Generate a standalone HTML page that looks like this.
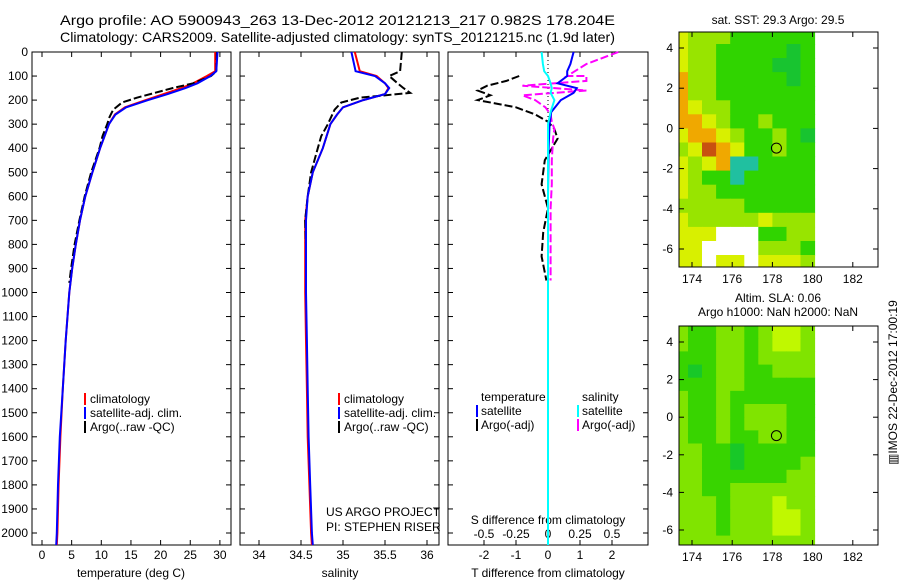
<!DOCTYPE html>
<html><head><meta charset="utf-8"><style>
body{margin:0;background:#fff;width:900px;height:580px;overflow:hidden;font-family:"Liberation Sans",sans-serif}
svg text{font-family:"Liberation Sans",sans-serif;font-size:12px;fill:#000}
</style></head><body>
<svg id="s" width="900" height="580" xmlns="http://www.w3.org/2000/svg">
<text x="60" y="25" style="font-size:14px" textLength="555" lengthAdjust="spacingAndGlyphs">Argo profile: AO 5900943_263 13-Dec-2012 20121213_217 0.982S 178.204E</text>
<text x="60" y="42" style="font-size:14px" textLength="555" lengthAdjust="spacingAndGlyphs">Climatology: CARS2009. Satellite-adjusted climatology: synTS_20121215.nc (1.9d later)</text>
<text x="778" y="24" text-anchor="middle">sat. SST: 29.3 Argo: 29.5</text>
<text x="778" y="302" text-anchor="middle">Altim. SLA: 0.06</text>
<text x="778" y="316" text-anchor="middle">Argo h1000: NaN h2000: NaN</text>
<text transform="translate(897,465) rotate(-90)" x="0" y="0">▥IMOS 22-Dec-2012 17:00:19</text>
</svg>
<script>
// ---- data ----
const depthClim=[0,80,100,130,150,175,200,230,260,300,400,500,600,700,800,900,1000,1200,1400,1600,1800,2000,2050];
const tempClim=[29.2,29.2,27.8,25.5,23.5,20.5,17.5,14,12.3,11.3,9.8,8.5,7.3,6.4,5.7,5.1,4.6,4.0,3.5,3.1,2.8,2.6,2.5];
const tempSat=[29.6,29.4,28.4,26.2,24.2,21.2,17.9,14.2,12.4,11.3,9.8,8.5,7.3,6.4,5.7,5.1,4.6,4.0,3.5,3.0,2.7,2.5,2.4];
const depthArgo=[0,80,100,130,150,170,190,210,240,270,300,350,400,500,600,700,800,900,960];
const tempArgo=[29.5,29.4,28.5,25.5,22,19,16,13.5,12,11.4,11,10.2,9.7,8.3,7.2,6.3,5.5,4.9,4.6];
const salClim=[35.14,35.2,35.4,35.5,35.54,35.5,35.24,35.0,34.93,34.85,34.76,34.64,34.58,34.55,34.55,34.55,34.55,34.56,34.57,34.58,34.6,34.62,34.63];
const salSat=[35.1,35.15,35.38,35.5,35.55,35.5,35.24,35.0,34.93,34.85,34.76,34.64,34.58,34.56,34.56,34.56,34.56,34.57,34.58,34.59,34.61,34.63,34.64];
const salArgo=[35.7,35.68,35.55,35.65,35.72,35.8,35.2,34.98,34.9,34.86,34.82,34.74,34.7,34.62,34.58,34.55,34.56,34.56,34.56];
const depthDiff=[0,50,80,100,130,150,170,200,250,300,400,600,800,1000,1500,2050];
const tDiffSat=[0.8,0.7,0.6,0.6,0.3,0.9,0.8,0.4,0.1,0.05,0.02,0,0,0,0,0];
const sDiffSat=[-0.05,-0.04,-0.03,0.0,0.02,0.03,0.02,0.05,0.02,0.0,0.0,0.0,0.0,0.0,0.0,0.0];
const depthArgoDiff=[100,120,140,160,180,200,230,260,290,320,360,450,550,650,750,850,950];
const tDiffArgo=[-0.9,-1.3,-1.9,-2.2,-1.8,-2.2,-1.0,-0.4,0.0,0.2,0.3,-0.1,-0.2,0.0,-0.15,-0.2,-0.05];
const sDiffArgo=[0.3,0.3,-0.2,0.3,-0.2,-0.1,-0.02,0.02,0.03,0.05,0.04,0.03,0.03,0.02,0.02,0.02,0.02];
const sDiffArgoTop=[0.55,0.3,0.15];
const depthArgoTop=[0,50,100];
const depthTicks=[0,100,200,300,400,500,600,700,800,900,1000,1100,1200,1300,1400,1500,1600,1700,1800,1900,2000];
const tempTicks=[0,5,10,15,20,25,30];
const salTicks=["34","34.5","35","35.5","36"];
const diffTTicks=[-2,-1,0,1,2];
const diffSTickLabels=["-0.5","-0.25","0","0.25","0.5"];
const diffSTicks=[-0.5,-0.25,0,0.25,0.5];
const lonTicks=[174,176,178,180,182];
const latTicks=[4,2,0,-2,-4,-6];
const sstGrid=["YLLLGGGGGG","YLLGGGGGDG","YLLGGGGDDG","OLLGGGGGDG","OLLGGGGGGG","OYLLGGGGGG","OOYLGGLGGG","YOOYLGGLGD","LYROYGGLGG","YLYOTTGGGG","YLGGTGGGGG","YLLGGGGGGG","LLLLLGGGGG","YLLLLLYLLL","YYYWWWGGLL","YYWWWWLLLG","YYWYYWYYYL"];
const slaGrid=["LGGLLGLYYL","LGGLLGLYYL","GGGLLGLLLL","GDGLLGGLLL","GGGLLGGGGG","LGGLGGGGGG","LGGLGLLLGG","LGGLGLLLGG","LGGLGGLLGG","LLGGDGGGGG","LLGGDGGGGL","LLGGGGGGLL","LLGGLLLLLL","LLLGLLLYLL","LLLGLLLYYL","LLLGLLLYYL","LLLLLLLLLL"];
const argoLon=178.2, argoLat=-0.98;

const NS="http://www.w3.org/2000/svg", S=document.getElementById('s');
function el(t,a,p){const e=document.createElementNS(NS,t);for(const k in a)e.setAttribute(k,a[k]);(p||S).appendChild(e);return e;}
function txt(x,y,s,anchor,p){const e=el('text',{x:x,y:y,'text-anchor':anchor||'middle'},p);e.textContent=s;return e;}
const yTop=52,yBot=545;
const yD=d=>yTop+d*0.2405;
function panel(x0,x1,name){
  const g=el('g',{});
  
  
  el('rect',{x:x0,y:yTop,width:x1-x0,height:yBot-yTop,fill:'none',stroke:'#000','stroke-width':1},g);
  depthTicks.forEach(d=>{el('line',{x1:x0,x2:x0+5,y1:yD(d),y2:yD(d),stroke:'#000'},g);el('line',{x1:x1,x2:x1-5,y1:yD(d),y2:yD(d),stroke:'#000'},g);});
  return g;
}
function line(xs,ds,fx,col,w,dash,p,name){
  const pts=xs.map((v,i)=>fx(v).toFixed(1)+','+yD(ds[i]).toFixed(1)).join(' ');
  const e=el('polyline',{points:pts,fill:'none',stroke:col,'stroke-width':w},p);
  if(dash)e.setAttribute('stroke-dasharray',dash);
  
  
  return e;
}
const xT=v=>42+v*5.93;
const p1=panel(32,231,'temperature-panel');
depthTicks.forEach(d=>txt(28,yD(d)+4,String(d),'end',p1));
tempTicks.forEach(v=>{el('line',{x1:xT(v),x2:xT(v),y1:yBot,y2:yBot-5,stroke:'#000'},p1);el('line',{x1:xT(v),x2:xT(v),y1:yTop,y2:yTop+5,stroke:'#000'},p1);txt(xT(v),559,String(v),'middle',p1);});
txt(131,577,'temperature (deg C)','middle',p1);
line(tempClim,depthClim,xT,'#f00',2,null,p1,'temp-climatology-line');
line(tempArgo,depthArgo,xT,'#000',2,'8,3',p1,'temp-argo-line');
line(tempSat,depthClim,xT,'#00f',2,null,p1,'temp-satellite-line');
const xS=v=>259+(v-34)*84;
const p2=panel(240,439,'salinity-panel');
salTicks.forEach(s=>{const v=parseFloat(s);el('line',{x1:xS(v),x2:xS(v),y1:yBot,y2:yBot-5,stroke:'#000'},p2);el('line',{x1:xS(v),x2:xS(v),y1:yTop,y2:yTop+5,stroke:'#000'},p2);txt(xS(v),559,s,'middle',p2);});
txt(340,577,'salinity','middle',p2);
line(salClim,depthClim,xS,'#f00',2,null,p2,'sal-climatology-line');
line(salArgo,depthArgo,xS,'#000',2,'8,3',p2,'sal-argo-line');
line(salSat,depthClim,xS,'#00f',2,null,p2,'sal-satellite-line');
txt(326,516,'US ARGO PROJECT','start',p2);
txt(326,531,'PI: STEPHEN RISER','start',p2);
[[84,'temp-legend'],[338,'sal-legend']].forEach(([lx,nm])=>{
  const g=el('g',{});
  [['#f00','climatology'],['#00f','satellite-adj. clim.'],['#000','Argo(..raw -QC)']].forEach((r,i)=>{
    el('rect',{x:lx,y:393+i*14,width:2,height:12,fill:r[0]},g);txt(lx+6,403+i*14,r[1],'start',g);});
});
const xDT=v=>548+v*32, xDS=v=>548+v*128;
const p3=panel(448,648,'difference-panel');
diffTTicks.forEach(v=>{el('line',{x1:xDT(v),x2:xDT(v),y1:yBot,y2:yBot-5,stroke:'#000'},p3);el('line',{x1:xDT(v),x2:xDT(v),y1:yTop,y2:yTop+5,stroke:'#000'},p3);txt(xDT(v),559,String(v),'middle',p3);});
diffSTicks.forEach((v,i)=>txt(xDS(v),538,diffSTickLabels[i],'middle',p3));
txt(548,524,'S difference from climatology','middle',p3);
txt(548,577,'T difference from climatology','middle',p3);
el('line',{x1:548,x2:548,y1:yTop,y2:yBot,stroke:'#000','stroke-dasharray':'1,3'},p3);
line(tDiffArgo,depthArgoDiff,xDT,'#000',2,'8,3',p3,'t-diff-argo-line');
line(sDiffArgoTop.concat(sDiffArgo),depthArgoTop.concat(depthArgoDiff),xDS,'#f0f',2,'8,3',p3,'s-diff-argo-line');
line(tDiffSat,depthDiff,xDT,'#00f',2,null,p3,'t-diff-satellite-line');
line(sDiffSat,depthDiff,xDS,'#0ff',2,null,p3,'s-diff-satellite-line');
{const g=el('g',{});
 txt(481,401,'temperature','start',g);txt(582,401,'salinity','start',g);
 el('rect',{x:476,y:405,width:2,height:12,fill:'#00f'},g);txt(481,415,'satellite','start',g);
 el('rect',{x:476,y:419,width:2,height:12,fill:'#000'},g);txt(481,429,'Argo(-adj)','start',g);
 el('rect',{x:577,y:405,width:2,height:12,fill:'#0ff'},g);txt(582,415,'satellite','start',g);
 el('rect',{x:577,y:419,width:2,height:12,fill:'#f0f'},g);txt(582,429,'Argo(-adj)','start',g);}
function map(grid,colors,x0,x1,y0,y1,lat4y,latm6y,name){
  const g=el('g',{});
  const lx=v=>692+(v-174)*20.1, ly=v=>lat4y+(4-v)*(latm6y-lat4y)/10;
  grid.forEach((row,r)=>{[...row].forEach((c,k)=>{
    const lo=173.1+k*0.7, la=4.9-r*0.7;
    const x=Math.max(lx(lo),x0), yy=Math.max(ly(la),y0);
    const cell=el('rect',{x:x.toFixed(1),y:yy.toFixed(1),width:(lx(lo+0.7)-x+0.5).toFixed(1),height:(Math.min(ly(la-0.7),y1)-yy+0.5).toFixed(1),fill:colors[c]},g);
    
    
  });});
  el('rect',{x:x0,y:y0,width:x1-x0,height:y1-y0,fill:'none',stroke:'#000'},g);
  lonTicks.forEach(v=>{el('line',{x1:lx(v),x2:lx(v),y1:y1,y2:y1-5,stroke:'#000'},g);el('line',{x1:lx(v),x2:lx(v),y1:y0,y2:y0+5,stroke:'#000'},g);txt(lx(v),y1+16,String(v),'middle',g);});
  latTicks.forEach(v=>{el('line',{x1:x0,x2:x0+5,y1:ly(v),y2:ly(v),stroke:'#000'},g);el('line',{x1:x1,x2:x1-5,y1:ly(v),y2:ly(v),stroke:'#000'},g);txt(x0-6,ly(v)+4,String(v),'end',g);});
  const c=el('circle',{cx:lx(argoLon),cy:ly(argoLat),r:5,fill:'none',stroke:'#000'},g);
  
  
}
map(sstGrid,{Y:'#d8f000',L:'#98e400',G:'#30d400',D:'#18c430',O:'#f0a800',R:'#c85010',T:'#20c0a0',W:'#fff'},679,878,32,267,48,249,'sst-map');
map(slaGrid,{Y:'#c0f800',L:'#80e400',G:'#38d400',D:'#18c828'},679,878,326,545,342,530,'sla-map');
</script>
</body></html>
